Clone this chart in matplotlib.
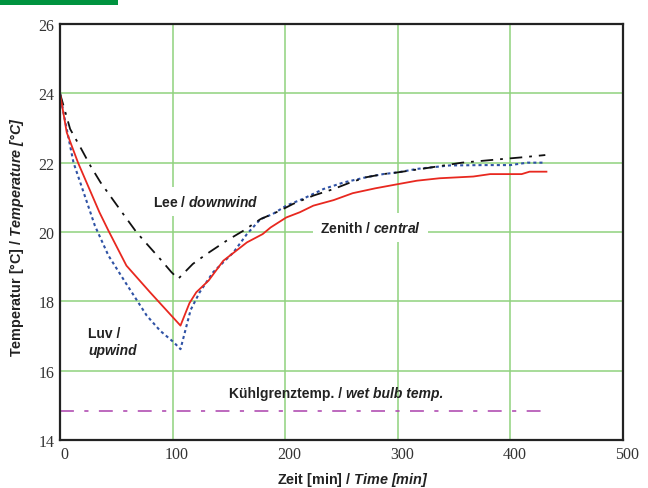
import matplotlib
matplotlib.use("Agg")
import matplotlib.pyplot as plt
from matplotlib.transforms import ScaledTranslation
from matplotlib.patches import Rectangle

# ---- data ----
time_central = [0, 6, 16, 35, 43, 59, 80, 107, 115, 121, 132, 145, 166, 180, 187, 201, 213,
                225, 243, 260, 280, 300, 317, 337, 367, 382, 410, 417, 432]
temp_central = [24.0, 22.87, 22.0, 20.57, 20.04, 19.03, 18.26, 17.3, 17.95, 18.26, 18.6, 19.17,
                19.7, 19.94, 20.13, 20.42, 20.57, 20.76, 20.92, 21.12, 21.26, 21.38, 21.48, 21.55,
                21.6, 21.67, 21.67, 21.74, 21.74]

time_upwind = [0, 3, 12, 21, 31, 43, 58, 77, 89, 101, 107, 116, 124, 136, 154, 166, 178, 189,
               201, 216, 234, 252, 272, 287, 300, 317, 346, 376, 400, 415, 431]
temp_upwind = [24.0, 23.45, 22.0, 21.14, 20.18, 19.32, 18.55, 17.59, 17.15, 16.82, 16.62, 17.75,
               18.26, 18.84, 19.41, 19.94, 20.37, 20.52, 20.76, 20.96, 21.24, 21.43, 21.58, 21.67,
               21.72, 21.82, 21.92, 21.93, 21.93, 22.0, 22.0]

time_downwind = [0, 9, 19, 27, 36, 55, 68, 89, 99, 105, 118, 130, 148, 163, 178, 195, 207, 225,
                 243, 258, 272, 287, 300, 323, 357, 391, 409, 431]
temp_downwind = [24.0, 22.97, 22.39, 21.91, 21.43, 20.57, 19.99, 19.22, 18.84, 18.65, 19.08,
                 19.36, 19.75, 20.04, 20.37, 20.61, 20.81, 21.05, 21.24, 21.43, 21.58, 21.67,
                 21.72, 21.83, 22.0, 22.1, 22.15, 22.22]

time_wetbulb = [0, 432]
temp_wetbulb = [14.85, 14.85]

x_ticks = [0, 100, 200, 300, 400, 500]
y_ticks = [14, 16, 18, 20, 22, 24, 26]

plt.rcParams['lines.scale_dashes'] = False
plt.rcParams['mathtext.fontset'] = 'custom'
plt.rcParams['mathtext.rm'] = 'Liberation Sans'
plt.rcParams['mathtext.bf'] = 'Liberation Sans:bold'
plt.rcParams['mathtext.bfit'] = 'Liberation Sans:bold:italic'
plt.rcParams['mathtext.it'] = 'Liberation Sans:italic'

fig = plt.figure(figsize=(6.48, 4.89), dpi=100)
ax = fig.add_axes([60/648, 1-441/489, 563/648, 416/489])

# green bar top-left
fig.add_artist(Rectangle((0, 1-6/489), 118/648, 6/489, transform=fig.transFigure,
                         facecolor='#00933f', edgecolor='none'))

ax.set_xlim(0, 500)
ax.set_ylim(14, 26)
ax.set_xticks(x_ticks)
ax.set_yticks(y_ticks)
ax.grid(True, color='#8fd27d', linewidth=1.1)
ax.set_axisbelow(True)
ax.tick_params(length=0, labelsize=11.5, pad=4)
for lab in ax.get_xticklabels() + ax.get_yticklabels():
    lab.set_fontfamily('Liberation Serif')
    lab.set_color('#333333')
for lab in ax.get_xticklabels():
    lab.set_transform(lab.get_transform() + ScaledTranslation(4/100, 0, fig.dpi_scale_trans))

for s in ax.spines.values():
    s.set_linewidth(1.6)
    s.set_color('#222222')

ax.plot(time_upwind, temp_upwind, color='#2f52a5', linewidth=1.5, linestyle=(0, (2.2, 2.2)))
ax.plot(time_downwind, temp_downwind, color='#111111', linewidth=1.3,
        linestyle=(0, (9, 5, 2, 5)))
ax.plot(time_central, temp_central, color='#e8281f', linewidth=1.3)
ax.plot(time_wetbulb, temp_wetbulb, color='#b24fb3', linewidth=1.2,
        linestyle=(0, (10, 7.5, 3, 7.5)))

FS = 10
FSL = 10.4
TC = '#222222'
SANS = 'Liberation Sans'


def mix(a, b):
    a = a.replace(' ', r'\ ')
    b = b.replace(' ', r'\ ')
    return r'$\mathbf{' + a + r'}\mathbfit{' + b + r'}$'


bg = dict(facecolor='white', edgecolor='none', pad=5)
ax.text(82.6, 20.89, mix('Lee / ', 'downwind'), fontsize=FS, color=TC,
        ha='left', va='center', bbox=bg, zorder=5)
ax.text(230.9, 20.14, mix('Zenith / ', 'central'), fontsize=FS, color=TC,
        ha='left', va='center', bbox=bg, zorder=5)

k1 = ax.text(150, 15.35, 'Kühlgrenztemp. / ', fontfamily=SANS, fontweight='bold',
             fontsize=FS, color=TC, ha='left', va='center', zorder=5)
ax.annotate('wet bulb temp.', xy=(1, 0.5), xycoords=k1, fontfamily=SANS, fontweight='bold',
            fontstyle='italic', fontsize=FS, color=TC, ha='left', va='center', zorder=5)

ax.text(24.9, 17.09, 'Luv /', fontfamily=SANS, fontweight='bold', fontsize=FS,
        color=TC, ha='left', va='center')
ax.text(24.9, 16.6, 'upwind', fontfamily=SANS, fontweight='bold',
        fontstyle='italic', fontsize=FS, color=TC, ha='left', va='center')

# axis labels
fig.text(277/648, 1-480/489, mix('Zeit [min] / ', 'Time [min]'), fontsize=FSL, color=TC,
         ha='left', va='center')
fig.text(17/648, 1-357/489, mix('Temperatur [°C] / ', 'Temperature [°C]'), fontsize=FSL,
         color=TC, ha='center', va='bottom', rotation=90)

fig.savefig('out.png', dpi=100)
